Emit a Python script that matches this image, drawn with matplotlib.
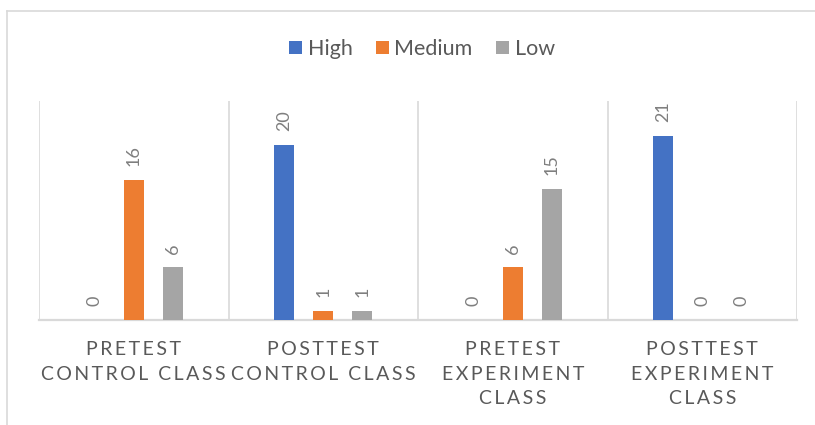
import matplotlib
matplotlib.use("Agg")
import matplotlib.pyplot as plt
from matplotlib.lines import Line2D
import numpy as np

# Chart data
categories = ["PRETEST\nCONTROL CLASS", "POSTTEST\nCONTROL CLASS",
              "PRETEST\nEXPERIMENT\nCLASS", "POSTTEST\nEXPERIMENT\nCLASS"]
series_names = ["High", "Medium", "Low"]
high = [0, 20, 0, 21]
medium = [16, 1, 6, 0]
low = [6, 1, 15, 0]

colors = ["#4472C4", "#ED7D31", "#A5A5A5"]
text_gray = "#595959"
label_gray = "#7F7F7F"
grid_gray = "#D9D9D9"
FONT = ["Lato", "DejaVu Sans"]

plt.rcParams["font.family"] = FONT


def spaced(label, gap="\u2009"):
    """Add tracking between letters of each line."""
    return "\n".join(gap.join(line) for line in label.split("\n"))


W, H = 815, 425
fig = plt.figure(figsize=(W / 100, H / 100), dpi=100)
fig.patch.set_facecolor("white")

ax = fig.add_axes([39 / W, 1 - 320 / H, (797 - 39) / W, (320 - 101) / H])

x = np.arange(len(categories))
offset = 0.206
width = 0.106
for i, (name, vals) in enumerate(zip(series_names, [high, medium, low])):
    bars = ax.bar(x + (i - 1) * offset, vals, width, color=colors[i],
                  label=name, zorder=3)
    ax.bar_label(bars, labels=[str(v) for v in vals], rotation=90,
                 padding=10, fontsize=13, color=label_gray)

ax.set_xlim(-0.5, len(categories) - 0.5)
ax.set_ylim(0, 25)
ax.set_yticks([])

ax.set_xticks(x)
ax.set_xticklabels([spaced(c) for c in categories], fontsize=14,
                   color=text_gray, linespacing=1.55)
ax.tick_params(axis="x", length=0, pad=15)

# boundaries between categories
ax.set_xticks(np.arange(-0.5, len(categories)), minor=True)
ax.tick_params(axis="x", which="minor", length=0)
ax.grid(which="minor", axis="x", color=grid_gray, linewidth=1.2, zorder=0)

for side in ["left", "right", "top"]:
    ax.spines[side].set_visible(False)
ax.spines["bottom"].set_color(grid_gray)
ax.spines["bottom"].set_linewidth(1.6)

leg = fig.legend(loc="center", bbox_to_anchor=(422 / W, 1 - 49 / H), ncol=3,
                 frameon=False, fontsize=15.5, handlelength=0.6,
                 handleheight=0.6, handletextpad=0.25, columnspacing=1.1)
for t in leg.get_texts():
    t.set_color(text_gray)

# chart frame
fig.add_artist(Line2D([6.5 / W, 6.5 / W], [0, 1 - 11 / H],
                      transform=fig.transFigure, color=grid_gray, lw=1.2))
fig.add_artist(Line2D([6.5 / W, 1], [1 - 11 / H, 1 - 11 / H],
                      transform=fig.transFigure, color=grid_gray, lw=1.2))

fig.savefig("out.png", dpi=100, facecolor="white")
